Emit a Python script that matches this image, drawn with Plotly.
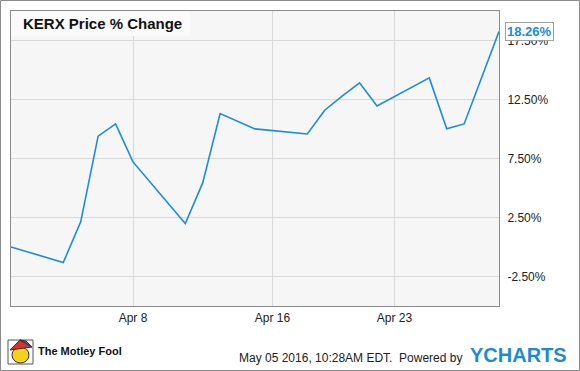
import plotly.graph_objects as go

# ---- data ----
dates = ["2016-04-01", "2016-04-04", "2016-04-05", "2016-04-06", "2016-04-07", "2016-04-08",
         "2016-04-11", "2016-04-12", "2016-04-13", "2016-04-14", "2016-04-15",
         "2016-04-18", "2016-04-19", "2016-04-20", "2016-04-21", "2016-04-22",
         "2016-04-25", "2016-04-26", "2016-04-27", "2016-04-28", "2016-04-29"]
pct_change = [0.0, -1.31, 2.13, 9.39, 10.43, 7.21,
              1.99, 5.43, 11.31, 10.66, 10.01,
              9.58, 11.59, 12.78, 13.91, 11.96,
              14.33, 10.01, 10.43, 14.35, 18.26]
x_tick_vals = ["2016-04-08", "2016-04-16", "2016-04-23"]
x_tick_text = ["Apr 8", "Apr 16", "Apr 23"]
y_tick_vals = [-2.5, 2.5, 7.5, 12.5, 17.5]
y_tick_text = ["-2.50%", "2.50%", "7.50%", "12.50%", "17.50%"]
title_text = "KERX Price % Change"
last_label = "18.26%"

W, H = 580, 371
ML, MR, MT, MB = 11, 81, 11, 65
PW, PH = W - ML - MR, H - MT - MB


def px(x):
    return (x - ML) / PW


def py(y):
    return 1 - (y - MT) / PH


LINE = "#1a8ae6"
FONT = "Liberation Sans, Arial, sans-serif"

fig = go.Figure()
fig.add_trace(go.Scatter(x=dates, y=pct_change, mode="lines",
                         line=dict(color=LINE, width=1.6), hoverinfo="skip"))

shapes = []
# outer border
shapes.append(dict(type="rect", xref="paper", yref="paper",
                   x0=px(0.5), x1=px(579.5), y0=py(370.5), y1=py(0.5),
                   line=dict(color="#8c8c8c", width=1), layer="below"))
# title box
shapes.append(dict(type="rect", xref="paper", yref="paper",
                   x0=0, x1=px(190), y0=py(36), y1=1,
                   fillcolor="#fafafa", line=dict(width=0), layer="above"))
# pointer notch of last-value label
shapes.append(dict(type="path", xref="x", yref="y",
                   xsizemode="pixel", ysizemode="pixel",
                   xanchor=dates[-1], yanchor=pct_change[-1],
                   path="M 1,0 L 6,5 L 6,-5 Z",
                   fillcolor="white", line=dict(color="#a0a0a0", width=1)))
# simple jester logo approximation
shapes.append(dict(type="rect", xref="paper", yref="paper",
                   x0=px(8), x1=px(33), y0=py(364), y1=py(340),
                   fillcolor="white", line=dict(color="#555", width=1)))
shapes.append(dict(type="circle", xref="paper", yref="paper",
                   x0=px(12), x1=px(29), y0=py(363), y1=py(347),
                   fillcolor="#f2d21b", line=dict(color="#333", width=1)))
shapes.append(dict(type="path", xref="paper", yref="paper",
                   path=f"M {px(10)},{py(350)} L {px(20)},{py(340)} L {px(32)},{py(347)} Z",
                   fillcolor="#d8322a", line=dict(color="#333", width=1)))
shapes.append(dict(type="path", xref="paper", yref="paper",
                   path=f"M {px(20)},{py(340)} L {px(26)},{py(341)} L {px(32)},{py(347)} Z",
                   fillcolor="#2a6fc9", line=dict(color="#333", width=1)))

annotations = [
    dict(x=px(21), y=py(23.5), xref="paper", yref="paper", text=f"<b>{title_text}</b>",
         showarrow=False, xanchor="left", yanchor="middle",
         font=dict(family=FONT, size=15, color="#111")),
    dict(x=dates[-1], y=pct_change[-1], xref="x", yref="y", text=f"<b>{last_label}</b>",
         showarrow=False, xanchor="left", yanchor="middle", xshift=6,
         bgcolor="white", bordercolor="#a0a0a0", borderwidth=1, borderpad=1,
         font=dict(family=FONT, size=13, color=LINE)),
    dict(x=px(36), y=py(351), xref="paper", yref="paper", text="<b>The Motley Fool</b>",
         showarrow=False, xanchor="left", yanchor="middle",
         font=dict(family=FONT, size=11, color="#111")),
    dict(x=px(464), y=py(358), xref="paper", yref="paper",
         text="May 05 2016, 10:28AM EDT.  Powered by",
         showarrow=False, xanchor="right", yanchor="middle",
         font=dict(family=FONT, size=12, color="#222")),
    dict(x=px(569), y=py(355), xref="paper", yref="paper", text="<b>YCHARTS</b>",
         showarrow=False, xanchor="right", yanchor="middle",
         font=dict(family=FONT, size=20, color="#1b8bd6")),
]

fig.update_layout(
    width=W, height=H,
    margin=dict(l=ML, r=MR, t=MT, b=MB),
    paper_bgcolor="white", plot_bgcolor="#f6f6f6",
    showlegend=False,
    shapes=shapes, annotations=annotations,
    font=dict(family=FONT, size=12, color="#222"),
    xaxis=dict(type="date", range=["2016-04-01", "2016-04-29"],
               tickvals=x_tick_vals, ticktext=x_tick_text,
               showgrid=True, gridcolor="#d9d9d9", gridwidth=1,
               showline=True, linecolor="#8a8a8a", linewidth=1, mirror=True,
               ticks="", ticklabelstandoff=1, zeroline=False,
               tickfont=dict(family=FONT, size=12, color="#222")),
    yaxis=dict(range=[-5, 20], side="right",
               tickvals=y_tick_vals, ticktext=y_tick_text,
               showgrid=True, gridcolor="#d9d9d9", gridwidth=1,
               showline=True, linecolor="#8a8a8a", linewidth=1, mirror=True,
               ticks="", ticklabelstandoff=5, zeroline=False,
               tickfont=dict(family=FONT, size=12, color="#222")),
)

fig.write_html("out.html")
